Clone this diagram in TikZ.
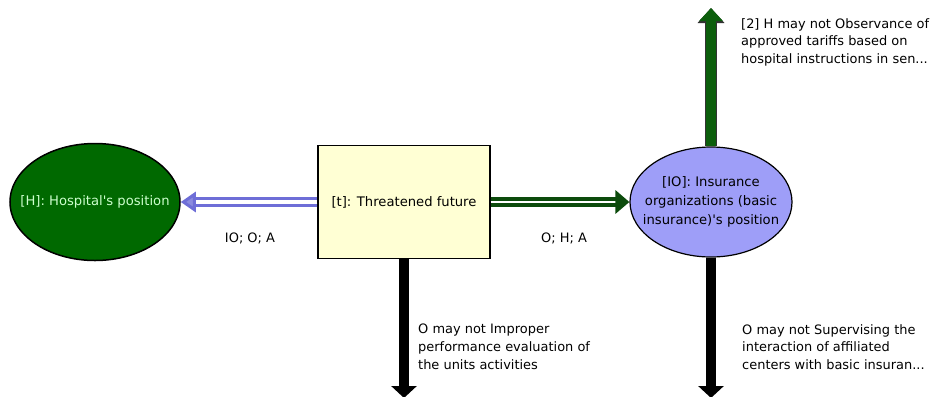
\documentclass[tikz,border=0pt]{standalone}
\usepackage{fontspec}
\setmainfont{DejaVu Sans}[Ligatures=TeXOff]
\usetikzlibrary{arrows.meta,shapes.geometric}
\definecolor{hgreen}{RGB}{0,105,0}
\definecolor{htext}{RGB}{205,255,205}
\definecolor{boxfill}{RGB}{255,255,212}
\definecolor{iofill}{RGB}{158,158,248}
\definecolor{blueline}{RGB}{110,110,215}
\definecolor{darkgreen}{RGB}{12,75,12}
\definecolor{upgreen}{RGB}{12,94,12}
\tikzset{
  lbl/.style={font=\fontsize{13}{18}\selectfont, align=left, anchor=north west, inner sep=0pt},
  edgelbl/.style={font=\fontsize{13}{15}\selectfont, inner sep=0pt},
  bluedouble/.style={draw=blueline, line width=3bp, double=white, double distance=3.5bp,
    -{Triangle[length=15bp,width=20bp,fill=blueline!80]}},
  greendouble/.style={draw=darkgreen, line width=3.5bp, double=white, double distance=2.5bp,
    -{Triangle[length=14bp,width=23bp]}},
  blackarrow/.style={draw=black, line width=10bp, -{Triangle[length=12bp,width=25bp]}},
  greenarrow/.style={draw=upgreen, line width=10bp, -{Triangle[length=13bp,width=23bp]},
    preaction={draw=black!80, line width=12bp, -{Triangle[length=15bp,width=26bp]}}},
}
\begin{document}
\begin{tikzpicture}[x=1bp,y=-1bp, font=\fontsize{13.2}{19}\selectfont]
\useasboundingbox (0,0) rectangle (931,396);

\node[ellipse, draw=black, line width=1.5bp, fill=hgreen, minimum width=170bp, minimum height=117bp,
  text=htext, inner sep=0pt] (H) at (95,202) {\makebox[0pt]{[H]: Hospital's position}};

\node[rectangle, draw=black, line width=1.2bp, fill=boxfill, minimum width=172bp, minimum height=113bp,
  inner sep=0pt] (t) at (404,202) {[t]: Threatened future};

\node[ellipse, draw=black, line width=1.2bp, fill=iofill, minimum width=162bp, minimum height=110bp,
  inner sep=0pt] (IO) at (711,202) {\makebox[0pt]{\begin{tabular}{@{}c@{}}[IO]: Insurance\\organizations (basic\\insurance)'s position\end{tabular}}};

\coordinate (topend) at (711,8);
\coordinate (tbot) at (404,398);
\coordinate (iobot) at (711,398);

\draw[bluedouble] (t.west) -- (H.east);
\draw[greendouble] (t.east) -- (IO.west);
\draw[greenarrow] (IO.north) -- (topend);
\draw[blackarrow] (t.south) -- (tbot);
\draw[blackarrow] (IO.south) -- (iobot);

\node[edgelbl] (l1) at (250,238) {IO; O; A};
\node[edgelbl] (l2) at (564,238) {O; H; A};

\node[lbl] (top) at (741,18) {[2] H may not Observance of\\approved tariffs based on\\hospital instructions in sen...};
\node[lbl] (b1) at (418,324) {O may not Improper\\performance evaluation of\\the units activities};
\node[lbl] (b2) at (742,324) {O may not Supervising the\\interaction of affiliated\\centers with basic insuran...};
\end{tikzpicture}
\end{document}
